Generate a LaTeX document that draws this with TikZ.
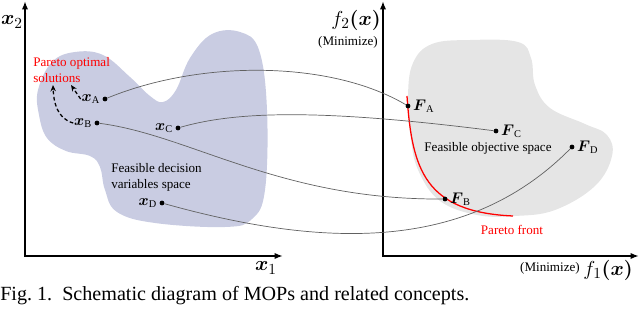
\documentclass[tikz,border=0pt]{standalone}
\usepackage{amsmath,amssymb}
\usepackage{fontspec}
\setmainfont{Liberation Serif}
\usepackage{tikz}
\usetikzlibrary{positioning, arrows.meta, calc}

\definecolor{decisionblue}{RGB}{201,204,226}
\definecolor{objectivegray}{RGB}{229,229,229}
\definecolor{paretored}{RGB}{255,0,0}

\begin{document}
\begin{tikzpicture}[
        x=0.025cm, y=-0.025cm,
        % Define styles
        axis/.style={line width=1.2pt, -{Latex[length=6pt,width=4.5pt]}},
        point/.style={circle, fill=black, inner sep=0pt, minimum size=3.4pt},
        link/.style={draw=black!62, line width=0.5pt},
        move/.style={line width=0.9pt, dash pattern=on 2.6pt off 1.8pt, -{Stealth[length=4.5pt,width=3.8pt]}},
        front/.style={draw=paretored, line width=0.9pt},
        varlabel/.style={inner sep=0.5pt, font=\fontsize{10.5}{12}\selectfont},
        axislabel/.style={inner sep=0pt, font=\fontsize{15}{17}\selectfont},
        note/.style={inner sep=0pt, align=left, font=\fontsize{9.3}{11.2}\selectfont}
    ]
    \useasboundingbox (0,0) rectangle (640,314);

    % --- Regions ---

    % Feasible decision variables space
    \fill[decisionblue] plot[smooth cycle, tension=0.65] coordinates {
        (38,90) (52,62) (75,52) (103,55) (130,77) (150,96) (163,102)
        (176,90) (190,58) (212,34) (240,32) (259,50) (267,110)
        (265,190) (252,219) (225,227) (155,223) (117,212) (105,190)
        (100,167) (90,156) (66,151) (47,138) (39,115)};

    % Feasible objective space
    \fill[objectivegray] plot[smooth cycle, tension=0.65] coordinates {
        (408,97) (413,63) (432,44) (470,40) (518,42) (531,58) (535,85)
        (550,108) (585,124) (607,135) (612,156) (595,186) (555,210)
        (515,216) (477,215) (440,201) (419,172) (411,140)};

    % --- Axes ---

    \coordinate (O1) at (25,256);
    \coordinate (top1) at (25,1);
    \coordinate (end1) at (283,256);
    \coordinate (O2) at (383,256);
    \coordinate (top2) at (383,1);
    \coordinate (end2) at (639,256);
    \draw[axis] (O1) -- (top1);
    \draw[axis] ([xshift=-0.6pt]O1) -- (end1);
    \draw[axis] (O2) -- (top2);
    \draw[axis] ([xshift=-0.6pt]O2) -- (end2);

    \node[axislabel] (x2) at (12,22) {$\boldsymbol{x}_2$};
    \node[axislabel] (x1) at (266,268) {$\boldsymbol{x}_1$};
    \node[axislabel, anchor=east] (f2) at (381,20) {$f_2\boldsymbol{(x)}$};
    \node[note, anchor=east] (min2) at (378,42) {(Minimize)};
    \node[axislabel, anchor=east] (f1) at (633,270) {$f_1\boldsymbol{(x)}$};
    \node[note, anchor=east] (min1) at (580,268) {(Minimize)};

    % --- Pareto front ---

    \draw[front] (407,96) .. controls (412,170) and (425,212) .. (513,216);
    \node[note, text=paretored] (frontlabel) at (512,230) {Pareto front};

    % --- Points ---

    \node[point] (xA) at (105,99) {};
    \node[point] (xB) at (97,123) {};
    \node[point] (xC) at (178,128) {};
    \node[point] (xD) at (162,203) {};
    \node[varlabel, left=1pt of xA] (xAlabel) {$\boldsymbol{x}_{\mathrm{A}}$};
    \node[varlabel, left=1pt of xB] (xBlabel) {$\boldsymbol{x}_{\mathrm{B}}$};
    \node[varlabel, left=1pt of xC] (xClabel) {$\boldsymbol{x}_{\mathrm{C}}$};
    \node[varlabel, left=1pt of xD] (xDlabel) {$\boldsymbol{x}_{\mathrm{D}}$};

    \node[point] (FA) at (408,106) {};
    \node[point] (FB) at (445,199) {};
    \node[point] (FC) at (496,131) {};
    \node[point] (FD) at (572,147) {};
    \node[varlabel, right=1pt of FA] (FAlabel) {$\boldsymbol{F}_{\mathrm{A}}$};
    \node[varlabel, right=1pt of FB] (FBlabel) {$\boldsymbol{F}_{\mathrm{B}}$};
    \node[varlabel, right=1pt of FC] (FClabel) {$\boldsymbol{F}_{\mathrm{C}}$};
    \node[varlabel, right=1pt of FD] (FDlabel) {$\boldsymbol{F}_{\mathrm{D}}$};

    % --- Region labels ---

    \node[note, text=paretored, anchor=west] (optimal) at (33,70) {Pareto optimal\\solutions};
    \node[note, anchor=west] (decision) at (111,177) {Feasible decision\\variables space};
    \node[note] (objective) at (488,148) {Feasible objective space};

    % --- Mappings ---

    \draw[link] (xA) .. controls (200,60) and (330,60) .. (FA);
    \draw[link] (xC) .. controls (240,110) and (330,110) .. (FC);
    \draw[link] (xB) .. controls (190,135) and (280,200) .. (FB);
    \draw[link] (xD) .. controls (330,250) and (470,250) .. (FD);

    % Moves towards the Pareto optimal solutions
    \coordinate (solA) at (71,85);
    \coordinate (solB) at (53,85);
    \draw[move] (xAlabel.west) -- (solA);
    \draw[move] (xBlabel.west) to[out=165, in=-88] (solB);

    % --- Caption ---

    \node[inner sep=0pt, anchor=west, font=\fontsize{14.3}{16}\selectfont] (caption) at (0,296)
        {Fig.~1.\enspace Schematic diagram of MOPs and related concepts.};

\end{tikzpicture}
\end{document}
